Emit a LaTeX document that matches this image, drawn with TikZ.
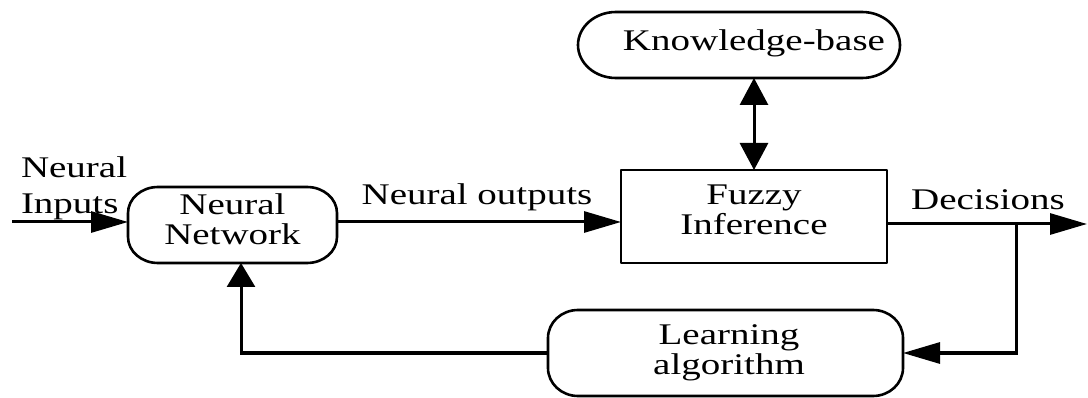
\documentclass[tikz,border=0pt]{standalone}
\usepackage{fontspec}
\setmainfont{Liberation Serif}[FakeStretch=1.3]
\usetikzlibrary{arrows.meta,calc}
\newcommand{\ebox}[3]{%
  \draw[boxline] ([xshift=#2pt]#1.north west) -- ([xshift=-#2pt]#1.north east)
    arc[start angle=90,end angle=0,x radius=#2pt,y radius=#3pt]
    -- ([yshift=#3pt]#1.south east)
    arc[start angle=0,end angle=-90,x radius=#2pt,y radius=#3pt]
    -- ([xshift=#2pt]#1.south west)
    arc[start angle=270,end angle=180,x radius=#2pt,y radius=#3pt]
    -- ([yshift=-#3pt]#1.north west)
    arc[start angle=180,end angle=90,x radius=#2pt,y radius=#3pt] -- cycle;}
\newcommand{\mydepth}[1]{\rule[-#1pt]{0pt}{#1pt}}
\tikzset{
  txt/.style={font=\fontsize{30}{30}\selectfont, inner sep=0pt, outer sep=0pt},
  blk/.style={txt, align=center, minimum width=#1},
  boxline/.style={line width=2.6pt, line join=round},
  conn/.style={line width=3pt},
  harrow/.style={conn, -{Triangle[length=37pt,width=21pt]}},
  varrow/.style={conn, -{Triangle[length=24pt,width=28pt]}},
  dvarrow/.style={conn, {Triangle[length=27pt,width=28pt]}-{Triangle[length=27pt,width=28pt]}},
}
\begin{document}
\begin{tikzpicture}[x=1pt,y=-1pt]
\useasboundingbox (0,0) rectangle (1088,398);
% boxes
\node[blk=209pt, minimum height=76pt] (nn) at (232.5,225) {Neural\\Network\mydepth{11}};
\node[blk=266pt, minimum height=93pt, draw, boxline] (fi) at (754,216.5) {Fuzzy\\Inference\mydepth{13}};
\node[blk=322pt, minimum height=66pt] (kb) at (739,45) {\hspace*{30pt}Knowledge-base\mydepth{10}};
\node[blk=355pt, minimum height=86pt] (la) at (725.5,353) {\hspace*{7pt}Learning\\\hspace*{7pt}algorithm};
\ebox{nn}{30}{26}
\ebox{kb}{38}{33}
\ebox{la}{30}{28}
% labels
\node[txt, align=left, anchor=north west] (lin) at (21,157) {Neural\\[6pt]Inputs};
\node[txt, anchor=base] (lout) at (477,205) {Neural outputs};
\node[txt, anchor=base] (ldec) at (988,210) {Decisions};
% connectors
\coordinate (in) at (12,222);
\coordinate (out) at (1087,224);
\coordinate (br) at (1016,224);
\coordinate (fb) at (241,0);
\draw[harrow] (in) -- (in -| nn.west);
\draw[harrow] (nn.east |- in) -- (fi.west |- in);
\draw[harrow] (fi.east |- out) -- (out);
\draw[harrow] (br) |- (la.east);
\draw[varrow] (la.west) -| (fb |- nn.south);
\draw[dvarrow] (fi.north) -- (fi.north |- kb.south);
\end{tikzpicture}
\end{document}
